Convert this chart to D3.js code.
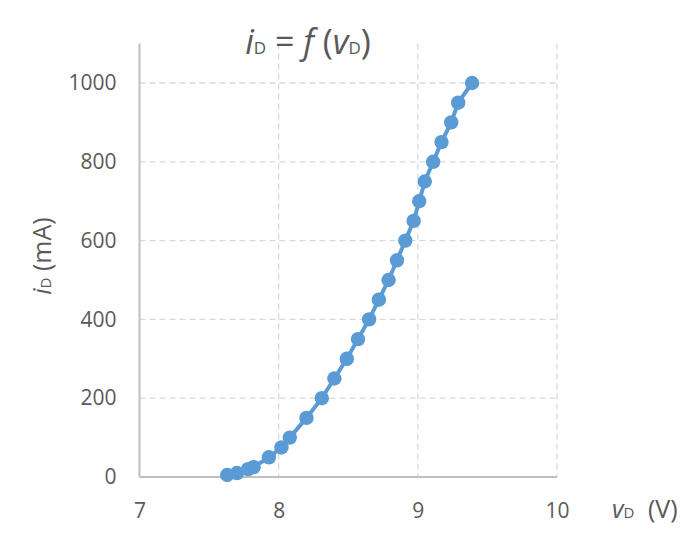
<!DOCTYPE html>
<html>
<head>
<meta charset="utf-8">
<script src="https://cdn.jsdelivr.net/npm/d3@7"></script>
<style>
  body { margin: 0; background: #fff; }
  svg { display: block; font-family: "Open Sans", sans-serif; }
</style>
</head>
<body>
<svg id="chart" width="690" height="539"></svg>
<script>
// diode characteristic
let vD = [7.63, 7.70, 7.78, 7.82, 7.93, 8.02, 8.08, 8.20, 8.31, 8.40, 8.49, 8.57, 8.65,
          8.72, 8.79, 8.85, 8.91, 8.97, 9.01, 9.05, 9.11, 9.17, 9.24, 9.29, 9.39];
let iD = [5, 10, 20, 25, 50, 75, 100, 150, 200, 250, 300, 350, 400,
          450, 500, 550, 600, 650, 700, 750, 800, 850, 900, 950, 1000];
let xTicks = [7, 8, 9, 10];
let yTicks = [0, 200, 400, 600, 800, 1000];

let data = vD.map((v, k) => ({ v: v, i: iD[k] }));

let svg = d3.select("#chart");

let xScale = d3.scaleLinear().domain([7, 10]).range([139.5, 557]);
let yScale = d3.scaleLinear().domain([0, 1000]).range([477, 83]);
let plotTop = yScale(1100);

let gridColor = "#d9d9d9", axisColor = "#bfbfbf", textColor = "#595959", blue = "#5b9bd5";

// grid lines
svg.append("g")
    .selectAll("line")
    .data(yTicks.slice(1))
    .join("line")
    .attr("x1", xScale(7)).attr("x2", xScale(10))
    .attr("y1", d => yScale(d)).attr("y2", d => yScale(d))
    .attr("stroke", gridColor).attr("stroke-width", 1.3)
    .attr("stroke-dasharray", "6,4");

svg.append("g")
    .selectAll("line")
    .data(xTicks.slice(1))
    .join("line")
    .attr("x1", d => xScale(d)).attr("x2", d => xScale(d))
    .attr("y1", plotTop).attr("y2", yScale(0))
    .attr("stroke", gridColor).attr("stroke-width", 1.3)
    .attr("stroke-dasharray", "6,4");

// axes
let xAxis = svg.append("g")
    .attr("transform", "translate(0," + yScale(0) + ")")
    .call(d3.axisBottom(xScale).tickValues(xTicks).tickSize(0).tickPadding(26).tickFormat(d3.format("d")));
xAxis.select(".domain").remove();

let yAxis = svg.append("g")
    .attr("transform", "translate(" + xScale(7) + ",0)")
    .call(d3.axisLeft(yScale).tickValues(yTicks).tickSize(0).tickPadding(23).tickFormat(d3.format("d")));
yAxis.select(".domain").remove();

svg.selectAll(".tick text")
    .attr("font-family", "'Open Sans', sans-serif")
    .attr("font-size", 21)
    .attr("fill", textColor);

svg.append("line")
    .attr("x1", xScale(7)).attr("x2", xScale(10))
    .attr("y1", yScale(0)).attr("y2", yScale(0))
    .attr("stroke", axisColor).attr("stroke-width", 2);
svg.append("line")
    .attr("x1", xScale(7)).attr("x2", xScale(7))
    .attr("y1", plotTop).attr("y2", yScale(0))
    .attr("stroke", axisColor).attr("stroke-width", 2);

// series
let line = d3.line().x(d => xScale(d.v)).y(d => yScale(d.i));
svg.append("path")
    .datum(data)
    .attr("d", line)
    .attr("fill", "none")
    .attr("stroke", blue)
    .attr("stroke-width", 4);

svg.append("g")
    .selectAll("circle")
    .data(data)
    .join("circle")
    .attr("cx", d => xScale(d.v))
    .attr("cy", d => yScale(d.i))
    .attr("r", 7.2)
    .attr("fill", blue);

// title
let title = svg.append("text")
    .attr("x", 308).attr("y", 54)
    .attr("text-anchor", "middle")
    .attr("font-size", 34)
    .attr("fill", textColor);
title.append("tspan").attr("font-style", "italic").text("i");
title.append("tspan").attr("font-size", 17).text("D");
title.append("tspan").text(" = ");
title.append("tspan").attr("font-style", "italic").text("f");
title.append("tspan").text(" (");
title.append("tspan").attr("font-style", "italic").text("v");
title.append("tspan").attr("font-size", 17).text("D");
title.append("tspan").text(")");

// x axis title
let xTitle = svg.append("text")
    .attr("x", 612).attr("y", 518)
    .attr("font-size", 25)
    .attr("fill", textColor);
xTitle.append("tspan").attr("font-style", "italic").text("v");
xTitle.append("tspan").attr("font-size", 15).text("D");
xTitle.append("tspan").attr("x", 648).text("(V)");

// y axis title
let yTitle = svg.append("text")
    .attr("transform", "translate(51,256) rotate(-90)")
    .attr("text-anchor", "middle")
    .attr("font-size", 25)
    .attr("fill", textColor);
yTitle.append("tspan").attr("font-style", "italic").text("i");
yTitle.append("tspan").attr("font-size", 15).text("D");
yTitle.append("tspan").text(" (mA)");
</script>
</body>
</html>
